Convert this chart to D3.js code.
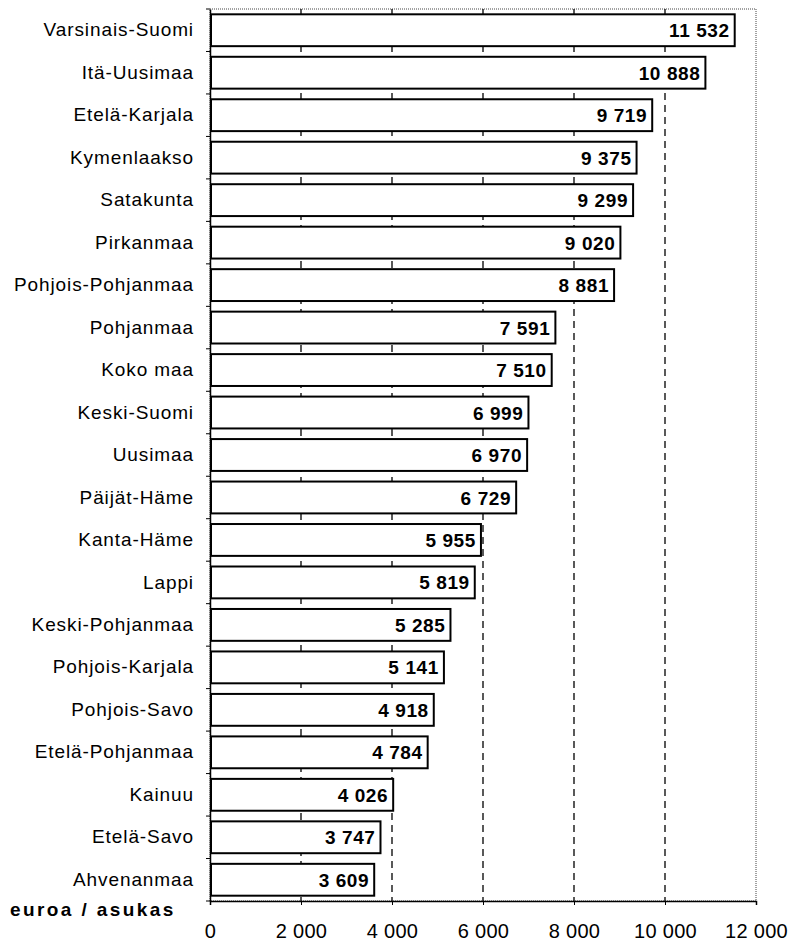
<!DOCTYPE html>
<html><head><meta charset="utf-8">
<script src="https://cdn.jsdelivr.net/npm/d3@7"></script>
<style>body{margin:0;background:#fff}svg{display:block}text{font-family:Arial,"Liberation Sans",sans-serif}</style>
</head><body>
<svg id="c" width="792" height="943"></svg>
<script>
const categories = ["Varsinais-Suomi","Itä-Uusimaa","Etelä-Karjala","Kymenlaakso","Satakunta","Pirkanmaa","Pohjois-Pohjanmaa","Pohjanmaa","Koko maa","Keski-Suomi","Uusimaa","Päijät-Häme","Kanta-Häme","Lappi","Keski-Pohjanmaa","Pohjois-Karjala","Pohjois-Savo","Etelä-Pohjanmaa","Kainuu","Etelä-Savo","Ahvenanmaa"];
const values = [11532,10888,9719,9375,9299,9020,8881,7591,7510,6999,6970,6729,5955,5819,5285,5141,4918,4784,4026,3747,3609];
const tickValues = [0,2000,4000,6000,8000,10000,12000];
const unitLabel = "euroa / asukas";

const svg = d3.select("#c");
const L=210, R=756, T=9, B=901;
const FF = "Arial, 'Liberation Sans', sans-serif";
const x = d3.scaleLinear().domain([0,12000]).range([L,R]);
const y = d3.scaleBand().domain(categories).range([T,B]).paddingInner(0.25).paddingOuter(0.125);
const fmt = v => d3.format(",")(v).replace(/,/g," ");

// plot frame
svg.append("rect").attr("x",L).attr("y",T).attr("width",R-L).attr("height",B-T)
  .attr("fill","none").attr("stroke","#444").attr("stroke-width",1).attr("stroke-dasharray","1,1");

// gridlines
svg.append("g").selectAll("line").data(tickValues.filter(d=>d>0&&d<12000)).join("line")
  .attr("x1",d=>x(d)).attr("x2",d=>x(d)).attr("y1",T).attr("y2",B)
  .attr("stroke","#000").attr("stroke-width",1.3).attr("stroke-dasharray","7,5");

// bars
const g = svg.append("g");
g.selectAll("rect").data(categories).join("rect")
  .attr("x",x(0)+1).attr("y",d=>y(d))
  .attr("width",(d,i)=>x(values[i])-x(0)-1).attr("height",y.bandwidth())
  .attr("fill","#fff").attr("stroke","#000").attr("stroke-width",2);

g.selectAll("text").data(categories).join("text")
  .attr("x",(d,i)=>x(values[i])-5).attr("y",d=>y(d)+y.bandwidth()/2)
  .attr("dy","0.37em").attr("text-anchor","end")
  .attr("font-size",19).attr("font-weight","bold").attr("letter-spacing","0.6px")
  .text((d,i)=>fmt(values[i]));

// y axis
const ya = svg.append("g").attr("transform",`translate(${L},0)`)
  .call(d3.axisLeft(y).tickSize(0).tickPadding(16));
ya.select(".domain").attr("stroke","#000").attr("stroke-width",1.5);
ya.selectAll("text").attr("font-size",19).attr("fill","#000").attr("letter-spacing","0.9px")
  .attr("font-family",FF);
// category boundary ticks
svg.append("g").selectAll("line").data(d3.range(categories.length+1)).join("line")
  .attr("x1",L-4).attr("x2",L).attr("y1",i=>T+i*y.step()).attr("y2",i=>T+i*y.step())
  .attr("stroke","#000");

// x axis
const xa = svg.append("g").attr("transform",`translate(0,${B})`)
  .call(d3.axisBottom(x).tickValues(tickValues).tickSize(4).tickPadding(19).tickFormat(fmt));
xa.select(".domain").attr("stroke","#000").attr("stroke-width",1.5);
xa.selectAll("line").attr("stroke","#000");
xa.selectAll("text").attr("font-size",20).attr("fill","#000").attr("letter-spacing","0.3px")
  .attr("font-family",FF);

svg.append("text").attr("x",10).attr("y",916).attr("font-size",19).attr("font-weight","bold")
  .attr("letter-spacing","2.4px").text(unitLabel);
</script>
</body></html>
